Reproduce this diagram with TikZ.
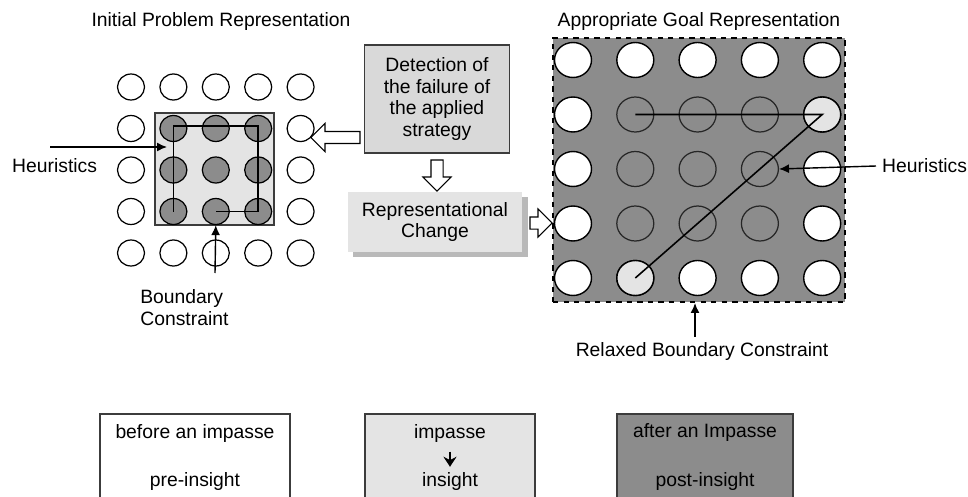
\documentclass[tikz,border=0pt]{standalone}
\usepackage{fontspec}
\setmainfont{Liberation Sans}
\usetikzlibrary{arrows.meta}
\usetikzlibrary{shapes.geometric}
\usetikzlibrary{shapes.arrows}
\usetikzlibrary{shadows}

\definecolor{darkfill}{HTML}{8C8C8C}
\definecolor{lightfill}{HTML}{E4E4E4}
\definecolor{midfill}{HTML}{D9D9D9}
\definecolor{edgegray}{HTML}{3C3C3C}

\begin{document}
\begin{tikzpicture}[x=0.02cm, y=-0.02cm,
    every node/.style={font=\fontsize{11}{12.5}\selectfont},
    dot/.style={ellipse, draw=black, line width=0.7pt, minimum width=0.54cm, minimum height=0.52cm, inner sep=0pt},
    bigdot/.style={ellipse, draw=black, line width=0.8pt, minimum width=0.74cm, minimum height=0.70cm, inner sep=0pt},
    hollow/.style={single arrow, draw=black, fill=white, line width=0.6pt, inner sep=0.11cm,
        single arrow head extend=0.16cm, single arrow head indent=0pt, minimum height=#1},
    tip/.style={-{Latex[length=2mm, width=1.8mm]}, line width=0.8pt},
    legend/.style={draw=edgegray, line width=0.7pt}
]
    \useasboundingbox (0,0) rectangle (968,497);

    % titles
    \node (titleL) at (221,22) {Initial Problem Representation};
    \node (titleR) at (699,22) {Appropriate Goal Representation};

    % initial representation: 5x5 dots, boundary box round the middle 3x3
    \draw[draw=edgegray, fill=lightfill, line width=0.7pt] (155,113) rectangle (274,225);
    \foreach \r in {1,...,5}
        \foreach \c in {1,...,5} {
            \pgfmathtruncatemacro{\inbox}{and(and(\r>1,\r<5),and(\c>1,\c<5))}
            \ifnum\inbox=1 \def\dotcol{darkfill}\else\def\dotcol{white}\fi
            \node[dot, fill=\dotcol] (L-\r-\c) at ({131+42.4*(\c-1)}, {87+41.5*(\r-1)}) {};
        }
    \draw[line width=0.8pt] (L-4-2.center) -- ([yshift=1.5pt]L-2-2.center) -- ([yshift=1.5pt]L-2-4.center) -- (L-4-4.center) -- (L-4-3.center);

    \node[anchor=west] (heurL) at (6,166) {Heuristics};
    \coordinate (heurLstart) at (50,147);
    \coordinate (heurLend) at (167,147);
    \draw[tip] (heurLstart) -- (heurLend);

    \node[anchor=north west, align=left, inner sep=0pt] (bound) at (140,289) {Boundary\\Constraint};
    \coordinate (boundtail) at (215,273);
    \draw[tip] (boundtail) -- (L-4-3.south);

    % detection and change
    \node[draw=edgegray, fill=midfill, line width=0.7pt, minimum width=2.9cm, minimum height=2.16cm,
          align=center] (detect) at (437,99) {Detection of\\the failure of\\the applied\\strategy};
    \node[fill=lightfill, minimum width=3.5cm, minimum height=1.2cm, align=center,
          drop shadow={shadow xshift=3pt, shadow yshift=-3pt, fill=gray, opacity=0.55}]
          (repr) at (435,222) {Representational\\Change};

    \node[hollow=0.98cm, shape border rotate=197.7] (toleft) at (338.5,137.5) {};
    \node[hollow=0.62cm, shape border rotate=270] (todown) at (437,172.5) {};
    \node[hollow=0.44cm] (toright) at (538,223) {};

    % goal representation
    \node[draw=black, dashed, fill=darkfill, line width=0.7pt, minimum width=5.84cm, minimum height=5.28cm]
        (goal) at (699,170) {};
    \foreach \r in {1,...,5}
        \foreach \c in {1,...,5} {
            \pgfmathtruncatemacro{\inbox}{and(and(\r>1,\r<5),and(\c>1,\c<5))}
            \ifnum\inbox=1
                \node[bigdot, draw=black!85, line width=0.7pt] (R-\r-\c) at ({573+62.3*(\c-1)}, {60+54.5*(\r-1)}) {};
            \else
                \node[bigdot, fill=white] (R-\r-\c) at ({573+62.3*(\c-1)}, {60+54.5*(\r-1)}) {};
            \fi
        }
    \node[bigdot, fill=lightfill] at (R-2-5) {};
    \node[bigdot, fill=lightfill] at (R-5-2) {};
    \draw[line width=0.9pt] (R-2-2.center) -- (R-2-5.center) -- (R-5-2.center);

    \node[anchor=west] (heurR) at (876,166) {Heuristics};
    \draw[tip] (heurR.west) -- (R-3-4.east);

    \node (relax) at (702,352) {Relaxed Boundary Constraint};
    \coordinate (relaxtip) at (695,303);
    \draw[tip] (relax.north -| relaxtip) -- (relaxtip);

    % legend
    \draw[legend, fill=white] (100,414) rectangle (290,520);
    \draw[legend, fill=lightfill] (365,414) rectangle (535,520);
    \draw[legend, fill=darkfill] (617,414) rectangle (793,520);
    \node (pre1) at (195,433) {before an impasse};
    \node (pre2) at (195,482) {pre-insight};
    \node (imp) at (450,433) {impasse};
    \node (ins) at (450,482) {insight};
    \draw[-{Stealth[length=2mm, width=2.6mm]}, line width=1.4pt, shorten <=2pt] (imp.south) -- (ins.north);
    \node (post1) at (705,433) {after an Impasse};
    \node (post2) at (705,482) {post-insight};
\end{tikzpicture}
\end{document}
